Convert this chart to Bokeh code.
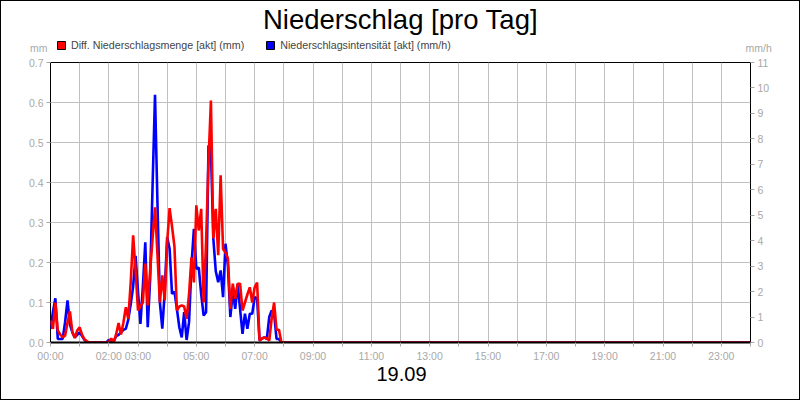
from bokeh.plotting import figure
from bokeh.layouts import column
from bokeh.models import (Range1d, LinearAxis, FixedTicker, Label, Legend, LegendItem,
                          PrintfTickFormatter)
from bokeh.embed import file_html
from bokeh.resources import INLINE

# ---------------- data ----------------
title_text = "Niederschlag [pro Tag]"
date_text = "19.09"
series_names = ["Diff. Niederschlagsmenge [akt] (mm)", "Niederschlagsintensität [akt] (mm/h)"]
left_unit = "mm"
right_unit = "mm/h"

# sample times in minutes after midnight
time_min = [
    0, 5, 10, 15, 20, 25, 30, 35, 40, 45, 50, 55,
    60, 65, 70, 75, 80, 85, 90, 95, 100, 105, 110, 115,
    120, 125, 130, 135, 140, 145, 150, 155, 160, 165, 170, 175,
    180, 185, 190, 195, 200, 205, 210, 215, 220, 225, 230, 235,
    240, 245, 250, 255, 260, 265, 270, 275, 280, 285, 290, 295,
    300, 305, 310, 315, 320, 325, 330, 335, 340, 345, 350, 355,
    360, 365, 370, 375, 380, 385, 390, 395, 400, 405, 410, 415,
    420, 425, 430, 435, 440, 445, 450, 455, 460, 465, 470, 475,
    480, 1440,
]

# Diff. Niederschlagsmenge (mm)
menge_mm = [
    0.055, 0.034, 0.10, 0.03, 0.02, 0.013, 0.017, 0.05, 0.078, 0.026,
    0.011, 0.03, 0.038, 0.019, 0.008, 0.003, 0.0, 0.0, 0.0, 0.0,
    0.0, 0.0, 0.0, 0.0, 0.002, 0.01, 0.0, 0.02, 0.049, 0.02,
    0.05, 0.088, 0.059, 0.15, 0.268, 0.18, 0.08, 0.09, 0.10, 0.197,
    0.093, 0.18, 0.26, 0.338, 0.22, 0.10, 0.168, 0.105, 0.25, 0.336,
    0.29, 0.24, 0.08, 0.09, 0.093, 0.09, 0.059, 0.12, 0.213, 0.15,
    0.343, 0.28, 0.334, 0.10, 0.25, 0.45, 0.605, 0.26, 0.334, 0.218,
    0.418, 0.234, 0.225, 0.21, 0.084, 0.147, 0.109, 0.147, 0.147, 0.08,
    0.10, 0.12, 0.138, 0.10, 0.138, 0.15, 0.005, 0.01, 0.013, 0.01,
    0.005, 0.06, 0.10, 0.032, 0.032, 0.0, 0.0,
    0.0,
]

# Niederschlagsintensität (mm/h)
intens_mmh = [
    0.54, 1.2, 1.74, 0.14, 0.14, 0.14, 0.8, 1.65, 0.7, 0.4,
    0.2, 0.3, 0.4, 0.25, 0.1, 0.0, 0.0, 0.0, 0.0, 0.0,
    0.0, 0.0, 0.0, 0.0, 0.1, 0.08, 0.05, 0.25, 0.3, 0.4,
    0.5, 0.54, 0.9, 1.5, 2.2, 3.4, 2.0, 0.73, 2.2, 3.94,
    0.6, 2.5, 6.17, 9.73, 5.5, 1.58, 0.54, 2.0, 4.14, 3.68,
    1.91, 2.0, 1.32, 0.6, 0.2, 1.19, 0.1, 0.8, 3.03, 4.47,
    2.9, 2.94, 1.9, 1.06, 1.19, 7.74, 7.6, 4.07, 2.8, 2.37,
    2.83, 1.78, 3.88, 3.0, 1.0, 2.0, 1.32, 2.3, 1.32, 0.34,
    1.13, 0.54, 1.13, 1.13, 1.78, 1.74, 0.08, 0.15, 0.2, 0.14,
    1.0, 1.26, 1.13, 0.14, 0.14, 0.0, 0.0,
    0.0,
]

hour_ticks = [0, 60, 120, 180, 240, 300, 360, 420, 480, 540, 600, 660, 720,
              780, 840, 900, 960, 1020, 1080, 1140, 1200, 1260, 1320, 1380, 1440]
hour_labels = {0: "00:00", 120: "02:00", 180: "03:00", 300: "05:00", 420: "07:00",
               540: "09:00", 660: "11:00", 780: "13:00", 900: "15:00", 1020: "17:00",
               1140: "19:00", 1260: "21:00", 1380: "23:00"}
left_ticks = [0.0, 0.1, 0.2, 0.3, 0.4, 0.5, 0.6, 0.7]
right_ticks = [0, 1, 2, 3, 4, 5, 6, 7, 8, 9, 10, 11]

# ---------------- styling ----------------
FONT = "Liberation Sans"
GREY = "#a8a8a8"
GRID = "#c0c0c0"
RED = "#ff0000"
BLUE = "#0000ff"
W = 798
NAN = float("nan")


def blank_fig(h):
    f = figure(width=W, height=h, output_backend="svg", toolbar_location=None,
               x_axis_type=None, y_axis_type=None, x_range=Range1d(0, 1), y_range=Range1d(0, h),
               min_border=0, background_fill_color="white", border_fill_color="white")
    f.outline_line_color = None
    f.xgrid.visible = False
    f.ygrid.visible = False
    return f


def unit_axis(text, standoff):
    # an axis carrying only the unit caption, set at the height of the legend row
    ax = LinearAxis(ticker=FixedTicker(ticks=[4]), major_label_overrides={4: text})
    ax.axis_line_color = None
    ax.major_tick_line_color = None
    ax.minor_tick_line_color = None
    ax.major_tick_out = 0
    ax.major_tick_in = 0
    ax.major_label_standoff = standoff
    ax.major_label_text_align = "center"
    ax.major_label_text_color = GREY
    ax.major_label_text_font = FONT
    ax.major_label_text_font_size = "10.5px"
    return ax


# ---------- header: title, legend, units (frame aligned with chart frame) ----------
head = blank_fig(54)
head.add_layout(Label(x=350, y=36, x_units="screen", y_units="screen", text=title_text,
                      text_align="center", text_baseline="alphabetic",
                      text_font=FONT, text_font_size="27.5px", text_color="black"))
head.add_layout(unit_axis(left_unit, 3), "left")
head.add_layout(unit_axis(right_unit, -5), "right")
# legend swatches only (no visible points)
sw_red = head.scatter(x=[NAN], y=[NAN], marker="square", fill_color=RED, line_color="black")
sw_blue = head.scatter(x=[NAN], y=[NAN], marker="square", fill_color=BLUE, line_color="black")
legend = Legend(items=[LegendItem(label=series_names[0], renderers=[sw_red]),
                       LegendItem(label=series_names[1], renderers=[sw_blue])],
                orientation="horizontal", location=(1, 0), padding=0, margin=0,
                spacing=16, glyph_width=20, glyph_height=20, label_standoff=-1,
                label_height=20, label_text_font=FONT, label_text_font_size="10.7px",
                border_line_color=None, background_fill_alpha=0)
head.add_layout(legend)

# ---------- main chart ----------
p = figure(width=W, height=309, output_backend="svg", toolbar_location=None,
           x_range=Range1d(0, 1440), y_range=Range1d(0, 0.7),
           min_border_left=49, min_border_right=49, min_border_top=7, min_border_bottom=22,
           background_fill_color="white", border_fill_color="white")
p.outline_line_color = "black"
p.outline_line_width = 1
p.extra_y_ranges = {"int": Range1d(0, 11)}

xa = p.xaxis[0]
xa.ticker = FixedTicker(ticks=hour_ticks)
xa.major_label_overrides = {t: hour_labels.get(t, "") for t in hour_ticks}
xa.axis_line_color = "black"
xa.axis_line_width = 2
xa.major_tick_line_color = GREY
xa.major_tick_out = 4
xa.major_tick_in = 0
xa.minor_tick_line_color = None
xa.major_label_text_color = GREY
xa.major_label_text_font = FONT
xa.major_label_text_font_size = "10.5px"
xa.major_label_standoff = 3

ya = p.yaxis[0]
ya.ticker = FixedTicker(ticks=left_ticks)
ya.formatter = PrintfTickFormatter(format="%.1f")
ya.axis_line_color = None
ya.major_tick_line_color = GREY
ya.major_tick_out = 4
ya.major_tick_in = 0
ya.minor_tick_line_color = None
ya.major_label_text_color = GREY
ya.major_label_text_font = FONT
ya.major_label_text_font_size = "10.5px"
ya.major_label_standoff = 3

ra = LinearAxis(y_range_name="int", ticker=FixedTicker(ticks=right_ticks))
ra.axis_line_color = None
ra.major_tick_line_color = GREY
ra.major_tick_out = 4
ra.major_tick_in = 0
ra.minor_tick_line_color = None
ra.major_label_text_color = GREY
ra.major_label_text_font = FONT
ra.major_label_text_font_size = "10.5px"
ra.major_label_standoff = 3
p.add_layout(ra, "right")

p.xgrid.grid_line_color = GRID
p.ygrid.grid_line_color = GRID

p.line(time_min, intens_mmh, y_range_name="int", line_color=BLUE, line_width=2.6)
p.line(time_min, menge_mm, line_color=RED, line_width=2.6)

# ---------- footer: date ----------
foot = blank_fig(35)
foot.add_layout(Label(x=351, y=26, x_units="screen", y_units="screen", text=date_text,
                      text_align="center", text_baseline="middle",
                      text_font=FONT, text_font_size="20px", text_color="black"))

page = column(head, p, foot, spacing=0, styles={"border": "1px solid black",
                                                 "background-color": "white"})

open("out.html", "w").write(file_html(page, INLINE))
